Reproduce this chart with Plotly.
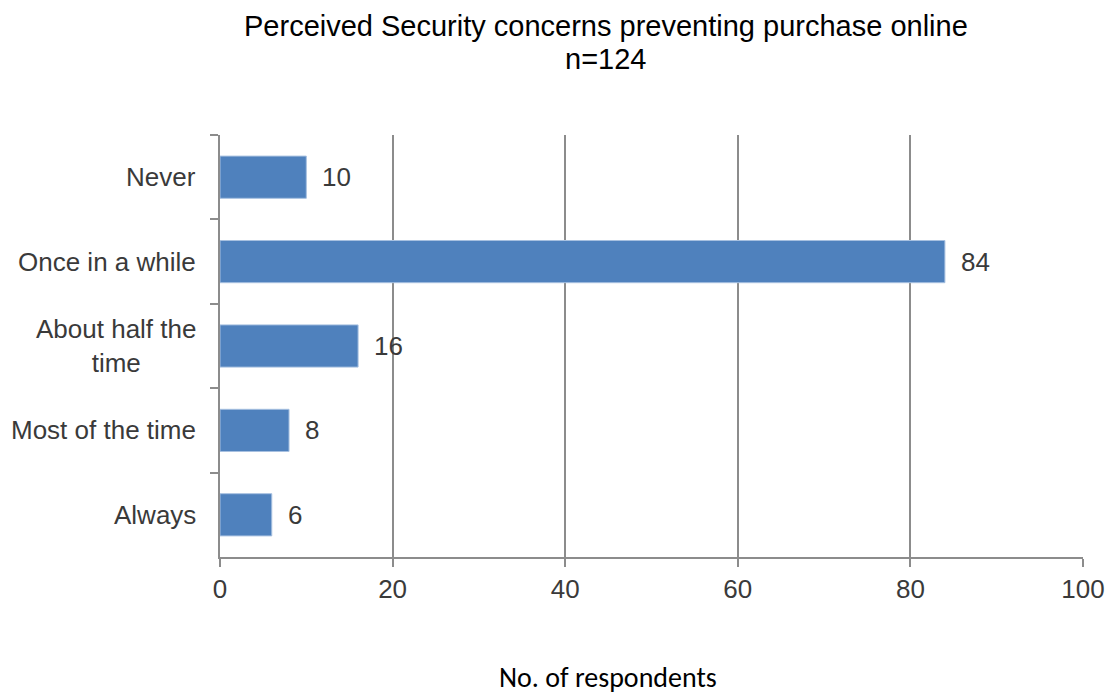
import plotly.graph_objects as go

categories = ["Never", "Once in a while", "About half the<br>time", "Most of the time", "Always"]
respondents = [10, 84, 16, 8, 6]
x_ticks = [0, 20, 40, 60, 80, 100]
title_lines = ["Perceived Security concerns preventing purchase online", "n=124"]
x_title = "No. of respondents"

BAR = "#4F81BD"
GRID = "#8C8C8C"
TXT = "#3A3A3A"
FONT = "Liberation Sans, Arial, sans-serif"

W, H = 1117, 695
L, R, T, B = 220, 31, 135, 138
PW, PH = W - L - R, H - T - B


def px_x(px):
    """Horizontal pixel position -> paper coordinate."""
    return (px - L) / PW


def px_y(py):
    """Vertical pixel position (from top) -> paper coordinate."""
    return 1 + (T - py) / PH


fig = go.Figure(
    go.Bar(
        y=categories,
        x=respondents,
        orientation="h",
        width=0.5,
        marker=dict(color=BAR, line=dict(color="#A7C0E0", width=1)),
        hoverinfo="x+y",
    )
)

# value labels just past the end of each bar
for cat, val in zip(categories, respondents):
    fig.add_annotation(
        x=val, y=cat, xref="x", yref="y",
        text=str(val), showarrow=False,
        xanchor="left", yanchor="middle", xshift=14,
        font=dict(family=FONT, size=26, color=TXT),
    )

# category labels, centred on multiple lines
for cat in categories:
    fig.add_annotation(
        x=0, y=cat, xref="paper", yref="y",
        text=cat, showarrow=False,
        xanchor="right", yanchor="middle", xshift=-22, align="center",
        font=dict(family=FONT, size=26, color=TXT),
    )

# two-line chart title
for i, line in enumerate(title_lines):
    fig.add_annotation(
        x=px_x(607), y=px_y(26 + 33 * i), xref="paper", yref="paper",
        text=line, showarrow=False, xanchor="center", yanchor="middle",
        font=dict(family="Liberation Sans Narrow, Liberation Sans, Arial", size=29, color="#000000"),
    )

# horizontal axis title
fig.add_annotation(
    x=px_x(609), y=px_y(677), xref="paper", yref="paper",
    text=x_title, showarrow=False, xanchor="center", yanchor="middle",
    font=dict(family="Carlito, Lato, Open Sans, sans-serif", size=28, color="#000000"),
)

fig.update_layout(
    width=W, height=H,
    margin=dict(l=L, r=R, t=T, b=B),
    paper_bgcolor="white", plot_bgcolor="white",
    showlegend=False,
    xaxis=dict(
        range=[0, 100], tickvals=x_ticks, ticktext=[str(v) for v in x_ticks],
        showgrid=True, gridcolor=GRID, gridwidth=2,
        showline=True, linecolor=GRID, linewidth=2,
        ticks="outside", ticklen=8, tickcolor=GRID, tickwidth=2,
        zeroline=False,
        tickfont=dict(family=FONT, size=26, color=TXT),
    ),
    yaxis=dict(
        type="category", autorange="reversed",
        showticklabels=False, tickson="boundaries",
        showline=True, linecolor=GRID, linewidth=2,
        ticks="outside", ticklen=8, tickcolor=GRID, tickwidth=2,
        showgrid=False, zeroline=False,
    ),
)

fig.write_html("out.html")
